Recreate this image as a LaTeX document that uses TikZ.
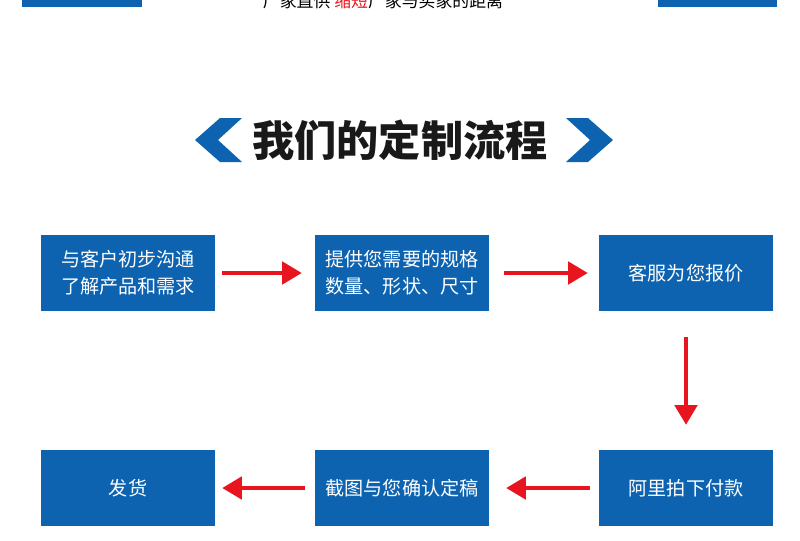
\documentclass[tikz,border=0pt]{standalone}
\usepackage{fontspec}
\newfontfamily\cjk{Noto Sans CJK SC}
\usetikzlibrary{arrows.meta}
\definecolor{stepblue}{HTML}{0D63B0}
\definecolor{arrowred}{HTML}{E8141E}
\tikzset{
  stepbox/.style={fill=stepblue, text=white, minimum width=174\px, minimum height=76\px,
    inner sep=0pt, align=left, font=\cjk\fontsize{13.6pt}{19pt}\selectfont},
  redarrow/.style={-{Triangle[length=14pt,width=16pt]}, draw=arrowred, line width=2.6pt},
  chevron/.style={fill=stepblue},
}
\newcommand{\px}{*0.025cm}
\begin{document}
\begin{tikzpicture}[x=0.025cm,y=-0.025cm]
  \useasboundingbox (0,0) rectangle (800,540);
  % top strip
  \fill[stepblue] (22,-10) rectangle (142,7);
  \fill[stepblue] (658,-10) rectangle (777,7);
  \node[font=\cjk\fontsize{12pt}{12pt}\selectfont] (tagline) at (383,1)
    {厂家直供 \textcolor{arrowred}{缩短}厂家与买家的距离};
  % title
  \node[font=\cjk\bfseries\fontsize{30pt}{30pt}\selectfont, text=black!90] (title) at (400,140) {我们的定制流程};
  \fill[chevron] (195,140) -- (220,118) -- (242,118) -- (218,140) -- (242,162) -- (220,162) -- cycle;
  \fill[chevron] (613,140) -- (588,118) -- (566,118) -- (590,140) -- (566,162) -- (588,162) -- cycle;
  % steps
  \node[stepbox] (talk) at (128,273) {与客户初步沟通\\了解产品和需求};
  \node[stepbox] (spec) at (402,273) {提供您需要的规格\\数量、形状、尺寸};
  \node[stepbox] (quote) at (686,273) {客服为您报价};
  \node[stepbox] (pay) at (686,488) {阿里拍下付款};
  \node[stepbox] (confirm) at (402,488) {截图与您确认定稿};
  \node[stepbox] (ship) at (128,488) {发货};
  % arrows
  \draw[redarrow] ([xshift=7\px]talk.east) -- ([xshift=-13\px]spec.west);
  \draw[redarrow] ([xshift=15\px]spec.east) -- ([xshift=-11\px]quote.west);
  \draw[redarrow] ([yshift=-26\px]quote.south) -- ([yshift=25\px]pay.north);
  \draw[redarrow] ([xshift=-9\px]pay.west) -- ([xshift=17\px]confirm.east);
  \draw[redarrow] ([xshift=-10\px]confirm.west) -- ([xshift=7\px]ship.east);
\end{tikzpicture}
\end{document}
